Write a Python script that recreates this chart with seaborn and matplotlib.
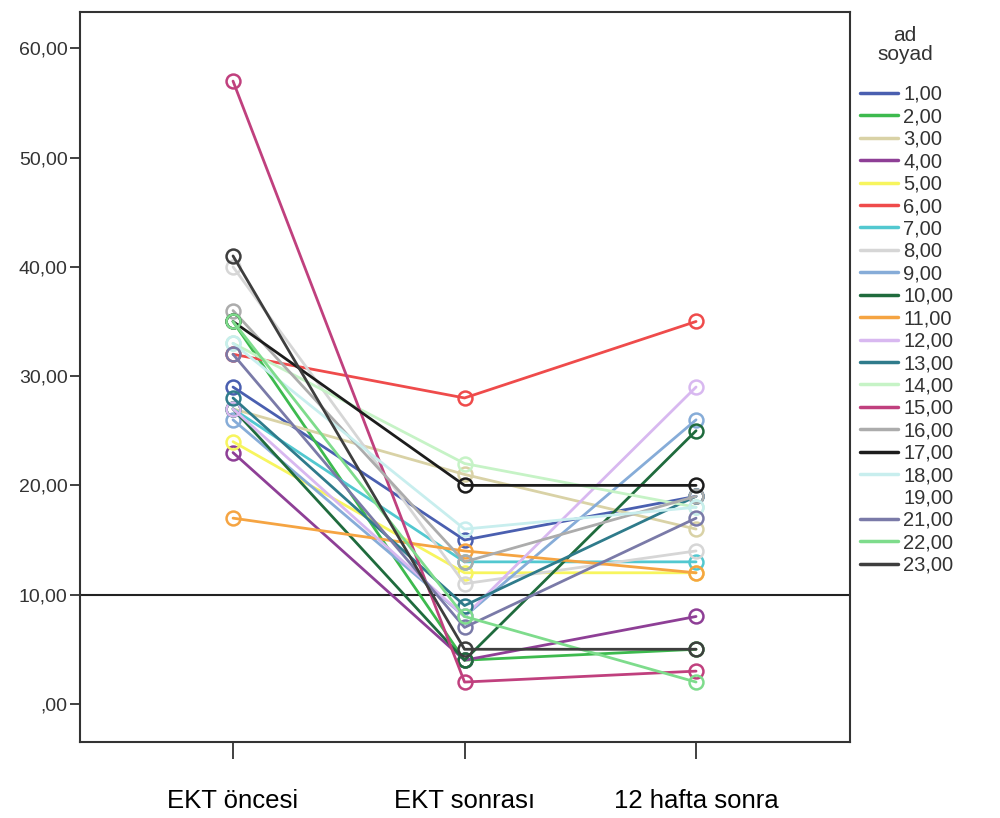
import numpy as np
import pandas as pd
import matplotlib
matplotlib.use("Agg")
import matplotlib.pyplot as plt
from matplotlib.lines import Line2D
from matplotlib.ticker import FuncFormatter
import seaborn as sns

times = ["EKT öncesi", "EKT sonrası", "12 hafta sonra"]
subjects = ["1,00", "2,00", "3,00", "4,00", "5,00", "6,00", "7,00", "8,00", "9,00",
            "10,00", "11,00", "12,00", "13,00", "14,00", "15,00", "16,00", "17,00",
            "18,00", "19,00", "21,00", "22,00", "23,00"]
ekt_oncesi = [29, 35, 27, 23, 24, 32, 27, 40, 26, 27, 17, 27, 28, 33, 57, 36, 35, 33, np.nan, 32, 35, 41]
ekt_sonrasi = [15, 4, 21, 4, 12, 28, 13, 11, 8, 4, 14, 8, 9, 22, 2, 13, 20, 16, np.nan, 7, 8, 5]
hafta12 = [19, 5, 16, 8, 12, 35, 13, 14, 26, 25, 12, 29, 19, 18, 3, 19, 20, 18, np.nan, 17, 2, 5]
colors = ["#4a5fb0", "#3dba4e", "#d9d2a6", "#8e3f96", "#f7f55e", "#ef4b4b", "#52c8d0",
          "#d6d6d6", "#86acd8", "#1f6b3d", "#f5a442", "#d8b8f0", "#2f7b8b", "#c6f3c6",
          "#c0407e", "#acacac", "#1c1c1c", "#c8eeee", "#ffffff", "#7a7aa8", "#7edc8c", "#3e3e3e"]
ref_value = 10

rows = []
for s, a, b, c in zip(subjects, ekt_oncesi, ekt_sonrasi, hafta12):
    for t, v in zip(times, [a, b, c]):
        rows.append({"subject": s, "time": t, "value": v})
df = pd.DataFrame(rows)
df["x"] = df["time"].map({t: i for i, t in enumerate(times)})
palette = dict(zip(subjects, colors))

sns.set_theme(style="white")
plt.rcParams["font.family"] = ["Liberation Sans", "DejaVu Sans"]

fig = plt.figure(figsize=(10, 8.18), dpi=100)
ax = fig.add_axes([0.08, 0.093, 0.77, 0.892])

plot_df = df.dropna()
sns.lineplot(data=plot_df, x="x", y="value", hue="subject", palette=palette,
             hue_order=[s for s in subjects if s in plot_df["subject"].unique()],
             marker="o", markersize=10, markerfacecolor="none", markeredgewidth=1.8,
             linewidth=2, legend=False, ax=ax, estimator=None, sort=False)
for line in ax.get_lines():
    line.set_markeredgecolor(line.get_color())
    line.set_markerfacecolor("none")

ax.axhline(ref_value, color="#222222", linewidth=1.5, zorder=0)

ax.set_xlim(-0.661, 2.665)
ax.set_ylim(-3.48, 63.3)
ax.set_xticks(range(len(times)))
ax.set_xticklabels(times, fontsize=18.5)
ax.set_yticks([0, 10, 20, 30, 40, 50, 60])
ax.yaxis.set_major_formatter(FuncFormatter(lambda v, p: ",00" if v == 0 else f"{int(v)},00"))
ax.tick_params(axis="y", labelsize=14, length=7, width=1.3, colors="#333333", left=True, pad=2)
ax.tick_params(axis="x", length=12, width=1.3, colors="#333333", bottom=True, pad=22)
for lab in ax.get_xticklabels():
    lab.set_color("black")
for lab in ax.get_yticklabels():
    lab.set_color("#333333")
ax.set_xlabel("")
ax.set_ylabel("")
for sp in ax.spines.values():
    sp.set_color("#333333")
    sp.set_linewidth(1.5)

fig.text(0.905, 0.957, "ad", ha="center", va="center", fontsize=15, color="#333333")
fig.text(0.905, 0.933, "soyad", ha="center", va="center", fontsize=15, color="#333333")
handles = [Line2D([0], [0], color=c, linewidth=2.5) for c in colors]
leg = fig.legend(handles, subjects, loc="upper left",
                 bbox_to_anchor=(0.852, 0.906), frameon=False, fontsize=14.5,
                 handlelength=1.9, handletextpad=0.25,
                 labelspacing=0.17, borderaxespad=0)
for t in leg.get_texts():
    t.set_color("#333333")

fig.savefig("out.png", dpi=100)
